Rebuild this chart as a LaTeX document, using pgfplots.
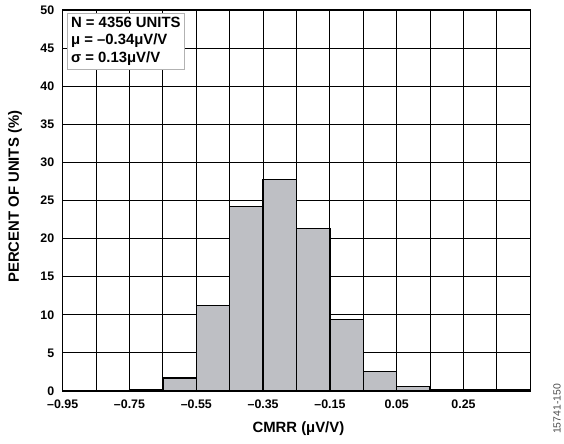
\documentclass[border=0pt]{standalone}
\usepackage{fontspec}
\setmainfont{Liberation Sans}
\usepackage{pgfplots}
\pgfplotsset{compat=1.18}
\definecolor{barfill}{RGB}{190,191,196}
\begin{document}
\begin{tikzpicture}
\begin{axis}[
  scale only axis,
  width=470bp, height=383bp,
  xmin=-0.95, xmax=0.45,
  ymin=0, ymax=50,
  xtick={-0.95,-0.75,-0.55,-0.35,-0.15,0.05,0.25},
  xticklabels={–0.95,–0.75,–0.55,–0.35,–0.15,0.05,0.25},
  minor xtick={-0.85,-0.65,-0.45,-0.25,-0.05,0.15,0.35},
  ytick={0,5,...,50},
  grid=both,
  major grid style={black, line width=1.1pt},
  minor grid style={black, line width=1.1pt},
  major tick length=0pt, minor tick length=0pt,
  axis line style={black, line width=1.4pt},
  /pgf/number format/assume math mode=true,
  tick label style={font=\fontsize{12.5}{14}\selectfont\bfseries},
  xticklabel style={yshift=-5bp},
  yticklabel style={xshift=-5bp},
  xlabel={CMRR (μV/V)},
  ylabel={PERCENT OF UNITS (\%)},
  label style={font=\fontsize{15}{17}\selectfont\bfseries},
  xlabel style={at={(axis description cs:0.504,-0.099)}, anchor=center},
  ylabel style={at={(axis description cs:-0.102,0.51)}, anchor=center},
  clip=false,
]
\addplot[ybar interval, fill=barfill, draw=black, line width=1.3pt] coordinates {
  (-0.75,0.2) (-0.65,1.7) (-0.55,11.2) (-0.45,24.2) (-0.35,27.8) (-0.25,21.3)
  (-0.15,9.4) (-0.05,2.6) (0.05,0.6) (0.15,0.15) (0.25,0.15) (0.35,0.15) (0.45,0.15)
};
\node[draw=gray!60, fill=white, anchor=north west, align=left, inner sep=4bp,
  font=\fontsize{15}{17.5}\selectfont\bfseries]
  at (axis description cs:0.009,0.992)
  {N = 4356 UNITS\\μ = –0.34μV/V\\σ = 0.13μV/V};
\node[rotate=90, font=\fontsize{10.5}{12}\selectfont, text=black!70]
  at (axis description cs:1.057,-0.047) {15741-150};
\end{axis}
\useasboundingbox (-63bp,-53bp) rectangle (501bp,393bp);
\end{tikzpicture}
\end{document}
